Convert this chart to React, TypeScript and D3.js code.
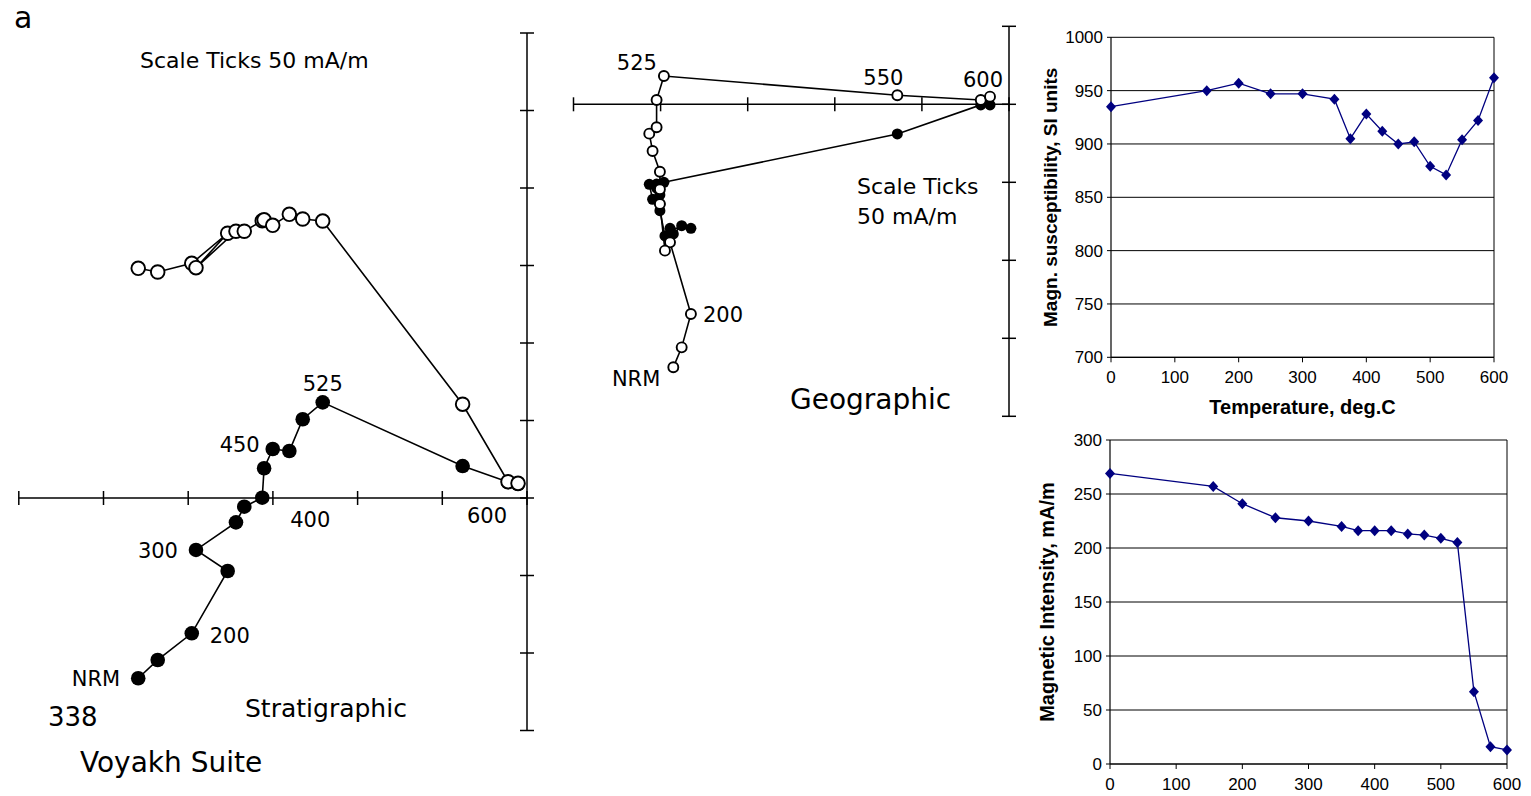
import React from "react";
import * as d3 from "d3";

// ---------- Data ----------
// Stratigraphic Zijderveld (mA/m). Horizontal component (filled) and vertical (open) share X.
const stratX = [-229.5, -218.0, -197.9, -176.7, -195.4, -171.8, -166.9, -156.3, -155.2, -150.1, -140.3, -132.4, -120.6, -38.0, -11.2, -5.3];
const stratHorizY = [-116.3, -104.5, -87.3, -47.1, -33.5, -15.7, -5.6, 0.2, 19.2, 31.6, 30.3, 50.8, 61.7, 20.6, 10.3, 9.0];
const stratVertY = [148.2, 145.8, 151.4, 170.8, 148.6, 172.1, 172.1, 178.9, 179.5, 175.9, 183.0, 180.0, 178.7, 60.5, 10.5, 9.5];

// Geographic Zijderveld (mA/m)
const geoX = [-192.7, -187.9, -182.6, -194.6, -197.5, -200.4, -200.4, -200.4, -204.6, -206.5, -202.3, -202.3, -198.1, -64.1, -16.2, -10.9];
const geoHorizY = [-83.1, -77.8, -79.5, -79.5, -84.4, -68.2, -63.9, -58.1, -60.9, -51.3, -53.7, -51.1, -50.0, -19.0, -0.4, -0.4];
const geoVertY = [-168.6, -155.8, -134.4, -88.5, -93.8, -63.9, -54.5, -43.2, -29.9, -18.8, -14.7, 2.8, 18.1, 5.8, 2.8, 4.9];

// Susceptibility vs temperature
const suscTemp = [0, 150, 200, 250, 300, 350, 375, 400, 425, 450, 475, 500, 525, 550, 575, 600];
const suscVal = [935, 950, 957, 947, 947, 942, 905, 928, 912, 900, 902, 879, 871, 904, 922, 962];
const suscYTicks = [700, 750, 800, 850, 900, 950, 1000];
const tempTicks = [0, 100, 200, 300, 400, 500, 600];

// Intensity vs temperature
const intTemp = [0, 156, 200, 250, 300, 350, 375, 400, 425, 450, 475, 500, 525, 550, 575, 600];
const intVal = [269, 257, 241, 228, 225, 220, 216, 216, 216, 213, 212, 209, 205, 67, 16, 13];
const intYTicks = [0, 50, 100, 150, 200, 250, 300];

const FONT_Z = "'DejaVu Sans', sans-serif";
const FONT_C = "'Liberation Sans', Arial, sans-serif";
const NAVY = "#000080";

type Lbl = { text: string; idx: number; series: "h" | "v"; dx: number; dy: number; anchor: string };

function Zijderveld(props: {
  xs: number[]; hy: number[]; vy: number[];
  xDomain: [number, number]; xRange: [number, number];
  yDomain: [number, number]; yRange: [number, number];
  r: number; rOpen: number; labels: Lbl[]; fontSize: number;
}) {
  const { xs, hy, vy, xDomain, xRange, yDomain, yRange, r, rOpen, labels, fontSize } = props;
  const x = d3.scaleLinear().domain(xDomain).range(xRange);
  const y = d3.scaleLinear().domain(yDomain).range(yRange);
  const xt = d3.range(xDomain[0], xDomain[1] + 1, 50);
  const yt = d3.range(yDomain[0], yDomain[1] + 1, 50);
  const line = d3.line<number>().x((_, i) => x(xs[i])).y((d) => y(d));
  const tk = 7;
  return (
    <g>
      <line x1={x(xDomain[0])} x2={x(0)} y1={y(0)} y2={y(0)} stroke="#000" strokeWidth={1.5} />
      <line x1={x(0)} x2={x(0)} y1={y(yDomain[0])} y2={y(yDomain[1])} stroke="#000" strokeWidth={1.5} />
      {xt.map((t) => (
        <line key={"xt" + t} x1={x(t)} x2={x(t)} y1={y(0) - tk} y2={y(0) + tk} stroke="#000" strokeWidth={1.5} />
      ))}
      {yt.map((t) => (
        <line key={"yt" + t} x1={x(0) - tk} x2={x(0) + tk} y1={y(t)} y2={y(t)} stroke="#000" strokeWidth={1.5} />
      ))}
      <path d={line(hy) || ""} fill="none" stroke="#000" strokeWidth={1.6} />
      <path d={line(vy) || ""} fill="none" stroke="#000" strokeWidth={1.6} />
      {hy.map((d, i) => (
        <circle key={"h" + i} cx={x(xs[i])} cy={y(d)} r={r} fill="#000" />
      ))}
      {vy.map((d, i) => (
        <circle key={"v" + i} cx={x(xs[i])} cy={y(d)} r={rOpen} fill="#fff" stroke="#000" strokeWidth={1.9} />
      ))}
      {labels.map((l, i) => {
        const py = l.series === "h" ? hy[l.idx] : vy[l.idx];
        return (
          <text key={"l" + i} x={x(xs[l.idx]) + l.dx} y={y(py) + l.dy} textAnchor={l.anchor}
            fontFamily={FONT_Z} fontSize={fontSize} fill="#000">{l.text}</text>
        );
      })}
    </g>
  );
}

function LineChart(props: {
  xs: number[]; ys: number[]; yTicks: number[];
  xRange: [number, number]; yRange: [number, number]; yDomain: [number, number];
  yLabel: string; xLabel?: string; yLabelX: number; yLabelSize: number;
}) {
  const { xs, ys, yTicks, xRange, yRange, yDomain, yLabel, xLabel, yLabelX, yLabelSize } = props;
  const x = d3.scaleLinear().domain([0, 600]).range(xRange);
  const y = d3.scaleLinear().domain(yDomain).range(yRange);
  const line = d3.line<number>().x((_, i) => x(xs[i])).y((d) => y(d));
  const diamond = "M0,-5.5L5,0L0,5.5L-5,0Z";
  const midY = (yRange[0] + yRange[1]) / 2;
  return (
    <g>
      {yTicks.map((t) => (
        <line key={"g" + t} x1={xRange[0]} x2={xRange[1]} y1={y(t)} y2={y(t)} stroke="#000" strokeWidth={1} />
      ))}
      <line x1={xRange[1]} x2={xRange[1]} y1={yRange[0]} y2={yRange[1]} stroke="#000" strokeWidth={1} />
      <line x1={xRange[0]} x2={xRange[0]} y1={yRange[0]} y2={yRange[1]} stroke="#000" strokeWidth={1.2} />
      <line x1={xRange[0]} x2={xRange[1]} y1={yRange[0]} y2={yRange[0]} stroke="#000" strokeWidth={1.2} />
      {yTicks.map((t) => (
        <g key={"yt" + t}>
          <line x1={xRange[0] - 4} x2={xRange[0]} y1={y(t)} y2={y(t)} stroke="#000" />
          <text x={xRange[0] - 8} y={y(t) + 6} textAnchor="end" fontFamily={FONT_C} fontSize={17}>{t}</text>
        </g>
      ))}
      {tempTicks.map((t) => (
        <g key={"xt" + t}>
          <line x1={x(t)} x2={x(t)} y1={yRange[0]} y2={yRange[0] + 5} stroke="#000" />
          <text x={x(t)} y={yRange[0] + 26} textAnchor="middle" fontFamily={FONT_C} fontSize={17}>{t}</text>
        </g>
      ))}
      <path d={line(ys) || ""} fill="none" stroke={NAVY} strokeWidth={1.3} />
      {ys.map((d, i) => (
        <path key={"m" + i} d={diamond} transform={`translate(${x(xs[i])},${y(d)})`} fill={NAVY} />
      ))}
      {xLabel && (
        <text x={(xRange[0] + xRange[1]) / 2} y={yRange[0] + 57} textAnchor="middle" fontFamily={FONT_C}
          fontWeight="bold" fontSize={20}>{xLabel}</text>
      )}
      <text transform={`translate(${yLabelX},${midY}) rotate(-90)`} textAnchor="middle" fontFamily={FONT_C}
        fontWeight="bold" fontSize={yLabelSize}>{yLabel}</text>
    </g>
  );
}

export default function App() {
  const stratLabels: Lbl[] = [
    { text: "NRM", idx: 0, series: "h", dx: -18, dy: 8, anchor: "end" },
    { text: "200", idx: 2, series: "h", dx: 18, dy: 10, anchor: "start" },
    { text: "300", idx: 4, series: "h", dx: -18, dy: 8, anchor: "end" },
    { text: "400", idx: 7, series: "h", dx: 28, dy: 29, anchor: "start" },
    { text: "450", idx: 9, series: "h", dx: -13, dy: 3, anchor: "end" },
    { text: "525", idx: 12, series: "h", dx: 0, dy: -11, anchor: "middle" },
    { text: "600", idx: 14, series: "h", dx: -21, dy: 41, anchor: "middle" },
  ];
  const geoLabels: Lbl[] = [
    { text: "NRM", idx: 0, series: "v", dx: -13, dy: 19, anchor: "end" },
    { text: "200", idx: 2, series: "v", dx: 12, dy: 8, anchor: "start" },
    { text: "525", idx: 12, series: "v", dx: -7, dy: -6, anchor: "end" },
    { text: "550", idx: 13, series: "v", dx: -14, dy: -10, anchor: "middle" },
    { text: "600", idx: 15, series: "v", dx: -7, dy: -10, anchor: "middle" },
  ];
  return (
    <svg width={1531} height={796} style={{ position: "absolute", left: 0, top: 0, background: "#fff" }}>
      <rect width={1531} height={796} fill="#fff" />
      <text x={14} y={28} fontFamily={FONT_Z} fontSize={30}>a</text>

      {/* Stratigraphic */}
      <text x={140} y={68} fontFamily={FONT_Z} fontSize={22}>Scale Ticks 50 mA/m</text>
      <Zijderveld xs={stratX} hy={stratHorizY} vy={stratVertY}
        xDomain={[-300, 0]} xRange={[18.8, 527]} yDomain={[-150, 300]} yRange={[730.5, 33]}
        r={7.3} rOpen={6.8} labels={stratLabels} fontSize={21} />
      <text x={48} y={726} fontFamily={FONT_Z} fontSize={26}>338</text>
      <text x={245} y={717} fontFamily={FONT_Z} fontSize={25}>Stratigraphic</text>
      <text x={80} y={772} fontFamily={FONT_Z} fontSize={28}>Voyakh Suite</text>

      {/* Geographic */}
      <Zijderveld xs={geoX} hy={geoHorizY} vy={geoVertY}
        xDomain={[-250, 0]} xRange={[573.5, 1009]} yDomain={[-200, 50]} yRange={[416.3, 26.3]}
        r={5.5} rOpen={5} labels={geoLabels} fontSize={21} />
      <text x={857} y={194} fontFamily={FONT_Z} fontSize={22}>Scale Ticks</text>
      <text x={857} y={224} fontFamily={FONT_Z} fontSize={22}>50 mA/m</text>
      <text x={790} y={409} fontFamily={FONT_Z} fontSize={28}>Geographic</text>

      {/* Susceptibility */}
      <LineChart xs={suscTemp} ys={suscVal} yTicks={suscYTicks}
        xRange={[1111, 1494]} yRange={[357.3, 37.3]} yDomain={[700, 1000]}
        yLabel="Magn. susceptibility, SI units" xLabel="Temperature, deg.C" yLabelX={1057} yLabelSize={19} />

      {/* Intensity */}
      <LineChart xs={intTemp} ys={intVal} yTicks={intYTicks}
        xRange={[1110, 1507]} yRange={[764, 440]} yDomain={[0, 300]}
        yLabel="Magnetic Intensity, mA/m" yLabelX={1054} yLabelSize={20} />
    </svg>
  );
}
